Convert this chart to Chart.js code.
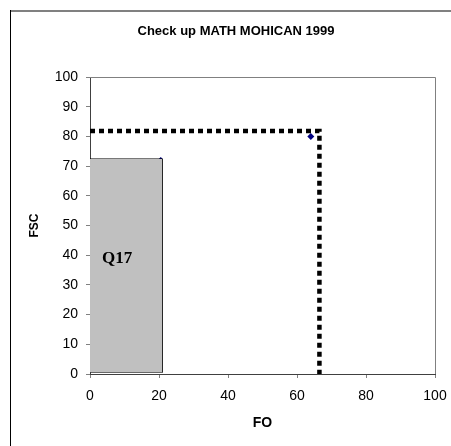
<!DOCTYPE html>
<html>
<head>
<meta charset="utf-8">
<script src="https://cdn.jsdelivr.net/npm/chart.js@4/dist/chart.umd.min.js"></script>
<style>
  html, body { margin: 0; padding: 0; background: #fff; }
  #wrap { width: 451px; height: 446px; position: relative; }
</style>
</head>
<body>
<div id="wrap"><canvas id="c" width="451" height="446"></canvas></div>
<script>
// values
const xTicks = [0, 20, 40, 60, 80, 100]
const yTicks = [0, 10, 20, 30, 40, 50, 60, 70, 80, 90, 100]
const boxX = [0, 0, 21, 21, 0]
const boxY = [0.6, 72.4, 72.4, 0.6, 0.6]
const boxTopX = [0, 21]
const boxTopY = [72.4, 72.4]
const boxBase = 0.6
const guideX = [0, 66.5, 66.5]
const guideY = [81.8, 81.8, 0]
const pointX = [64, 20.5]
const pointY = [80, 72.4]
const boxLabel = "Q17"
const boxLabelAt = [3.5, 38.7]

const zip = (xs, ys) => xs.map((x, i) => ({x: x, y: ys[i]}))

const frame = {
    id: "frame",
    beforeDraw(chart) {
        let ctx = chart.ctx
        ctx.save()
        ctx.fillStyle = "#fff"
        ctx.fillRect(0, 0, chart.width, chart.height)
        ctx.strokeStyle = "#808080"
        ctx.lineWidth = 2
        ctx.beginPath()
        ctx.moveTo(10, 11)
        ctx.lineTo(451, 11)
        ctx.stroke()
        ctx.strokeStyle = "#000"
        ctx.lineWidth = 1
        ctx.beginPath()
        ctx.moveTo(10.5, 10)
        ctx.lineTo(10.5, 446)
        ctx.stroke()
        ctx.fillStyle = "#000"
        ctx.font = "bold 13px 'Liberation Sans', Arial"
        ctx.textAlign = "center"
        ctx.textBaseline = "middle"
        ctx.fillText("Check up MATH MOHICAN 1999", 236, 31)
        ctx.restore()
    },
    afterDatasetsDraw(chart) {
        let ctx = chart.ctx
        let a = chart.chartArea
        let sx = chart.scales.x, sy = chart.scales.y
        ctx.save()
        ctx.strokeStyle = "#808080"
        ctx.lineWidth = 1
        ctx.beginPath()
        ctx.moveTo(a.left, a.top + 0.5)
        ctx.lineTo(a.right + 0.5, a.top + 0.5)
        ctx.lineTo(a.right + 0.5, a.bottom)
        ctx.stroke()
        ctx.fillStyle = "#000"
        ctx.font = "bold 17px 'Liberation Serif', 'Times New Roman', serif"
        ctx.textAlign = "left"
        ctx.textBaseline = "middle"
        ctx.fillText(boxLabel, sx.getPixelForValue(boxLabelAt[0]), sy.getPixelForValue(boxLabelAt[1]))
        ctx.restore()
    }
}

const tickFont = {family: "'Liberation Sans', Arial", size: 14}

new Chart(document.getElementById("c"), {
    type: "scatter",
    data: {
        datasets: [
            {
                type: "line",
                data: zip(boxTopX, boxTopY),
                fill: {value: boxBase},
                backgroundColor: "#c0c0c0",
                borderWidth: 0,
                pointRadius: 0,
                tension: 0
            },
            {
                data: zip(boxX, boxY),
                showLine: true,
                fill: false,
                borderColor: "#000",
                borderWidth: 1,
                pointRadius: 0,
                tension: 0
            },
            {
                data: zip(guideX, guideY),
                showLine: true,
                fill: false,
                borderColor: "#000",
                borderWidth: 4.5,
                borderDash: [5, 4],
                borderCapStyle: "butt",
                pointRadius: 0,
                tension: 0
            },
            {
                data: zip(pointX, pointY),
                showLine: false,
                pointStyle: "rectRot",
                pointRadius: [3.5, 2],
                backgroundColor: "#000080",
                borderColor: "#000080",
                borderWidth: 0
            }
        ]
    },
    options: {
        responsive: false,
        animation: false,
        events: [],
        layout: {padding: {top: 77, right: 16, left: 0, bottom: 0}},
        plugins: {legend: {display: false}, tooltip: {enabled: false}, title: {display: false}},
        scales: {
            x: {
                type: "linear",
                min: 0, max: 100,
                afterFit: s => { s.height = 72; s.paddingLeft = 0; s.paddingRight = 0 },
                afterBuildTicks: s => { s.ticks = xTicks.map(v => ({value: v})) },
                grid: {drawOnChartArea: false, drawTicks: true, tickLength: 4, color: "#808080"},
                border: {display: true, color: "#404040", width: 1},
                ticks: {font: tickFont, color: "#000", padding: 10, maxRotation: 0},
                title: {display: true, text: "FO", font: {family: "'Liberation Sans', Arial", size: 14, weight: "bold"}, color: "#000", padding: {top: 0, bottom: 14.5}}
            },
            y: {
                type: "linear",
                min: 0, max: 100,
                afterFit: s => { s.width = 90; s.paddingTop = 0; s.paddingBottom = 0 },
                afterBuildTicks: s => { s.ticks = yTicks.map(v => ({value: v})) },
                grid: {drawOnChartArea: false, drawTicks: true, tickLength: 4, color: "#808080"},
                border: {display: true, color: "#404040", width: 1},
                ticks: {font: tickFont, color: "#000", padding: 8},
                title: {display: true, text: "FSC", font: {family: "'Liberation Sans', Arial", size: 12, weight: "bold"}, color: "#000", padding: {top: 27, bottom: 0}}
            }
        }
    },
    plugins: [frame]
})
</script>
</body>
</html>
